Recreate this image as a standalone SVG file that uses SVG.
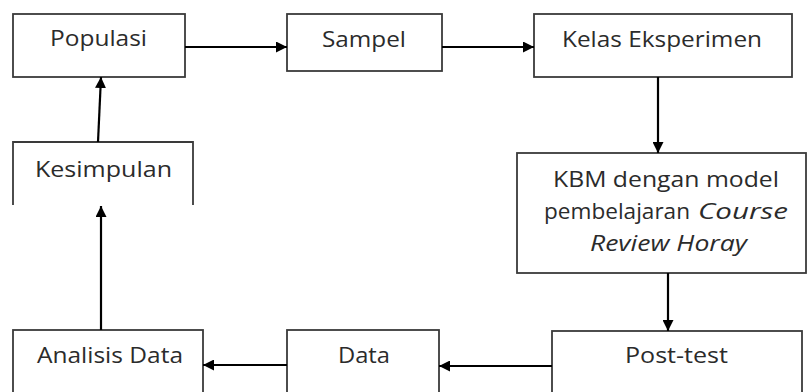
<svg xmlns="http://www.w3.org/2000/svg" width="808" height="392" viewBox="0 0 808 392">
<style>
.box{fill:#fff;stroke:#3a3a3a;stroke-width:1.8}
.t{font-family:"Open Sans","Liberation Sans",sans-serif;font-size:21px;fill:#2b2b2b;text-anchor:middle}
.ti{font-style:italic}
.c{stroke:#000;stroke-width:2.2;fill:none;marker-end:url(#ah)}
</style>
<defs>
<marker id="ah" viewBox="0 0 10 10" refX="10" refY="5" markerWidth="5" markerHeight="5" orient="auto" markerUnits="strokeWidth">
<path d="M0,0 L10,5 L0,10 Z" fill="#000"/>
</marker>
</defs>
<rect width="808" height="392" fill="#fff"/>
<g id="populasi">
<rect class="box" x="13" y="14" width="172" height="63"/>
<text class="t" x="98.5" y="46" textLength="97" lengthAdjust="spacingAndGlyphs">Populasi</text>
</g>
<g id="sampel">
<rect class="box" x="287" y="14" width="155" height="57"/>
<text class="t" x="364" y="47" textLength="84" lengthAdjust="spacingAndGlyphs">Sampel</text>
</g>
<g id="kelas">
<rect class="box" x="534" y="14" width="258" height="63"/>
<text class="t" x="662" y="47" textLength="200" lengthAdjust="spacingAndGlyphs">Kelas Eksperimen</text>
</g>
<g id="kbm">
<rect class="box" x="517" y="153" width="289" height="120"/>
<text class="t" x="666" y="187" textLength="226" lengthAdjust="spacingAndGlyphs">KBM dengan model</text>
<text class="t" x="617" y="219" textLength="146" lengthAdjust="spacingAndGlyphs">pembelajaran</text>
<text class="t ti" x="743" y="219" textLength="90" lengthAdjust="spacingAndGlyphs">Course</text>
<text class="t ti" x="668.5" y="251" textLength="157" lengthAdjust="spacingAndGlyphs">Review Horay</text>
</g>
<g id="posttest">
<rect class="box" x="552" y="331" width="250" height="80"/>
<text class="t" x="676.5" y="363" textLength="103" lengthAdjust="spacingAndGlyphs">Post-test</text>
</g>
<g id="data">
<rect class="box" x="287" y="330" width="152" height="80"/>
<text class="t" x="364" y="363" textLength="52" lengthAdjust="spacingAndGlyphs">Data</text>
</g>
<g id="analisis">
<rect class="box" x="13" y="330" width="190" height="80"/>
<text class="t" x="110" y="363" textLength="146" lengthAdjust="spacingAndGlyphs">Analisis Data</text>
</g>
<g id="kesimpulan">
<path class="box" d="M13,205 V142 H193 V205"/>
<text class="t" x="103.5" y="177" textLength="137" lengthAdjust="spacingAndGlyphs">Kesimpulan</text>
</g>
<g id="connectors">
<line class="c" x1="185" y1="47" x2="287" y2="47"/>
<line class="c" x1="442" y1="47" x2="534" y2="47"/>
<line class="c" x1="658" y1="77" x2="658" y2="153"/>
<line class="c" x1="668" y1="273" x2="668" y2="331"/>
<line class="c" x1="552" y1="366" x2="439" y2="366"/>
<line class="c" x1="287" y1="365" x2="203" y2="365"/>
<line class="c" x1="101" y1="330" x2="101" y2="206"/>
<line class="c" x1="98" y1="142" x2="101" y2="77"/>
</g>
</svg>
